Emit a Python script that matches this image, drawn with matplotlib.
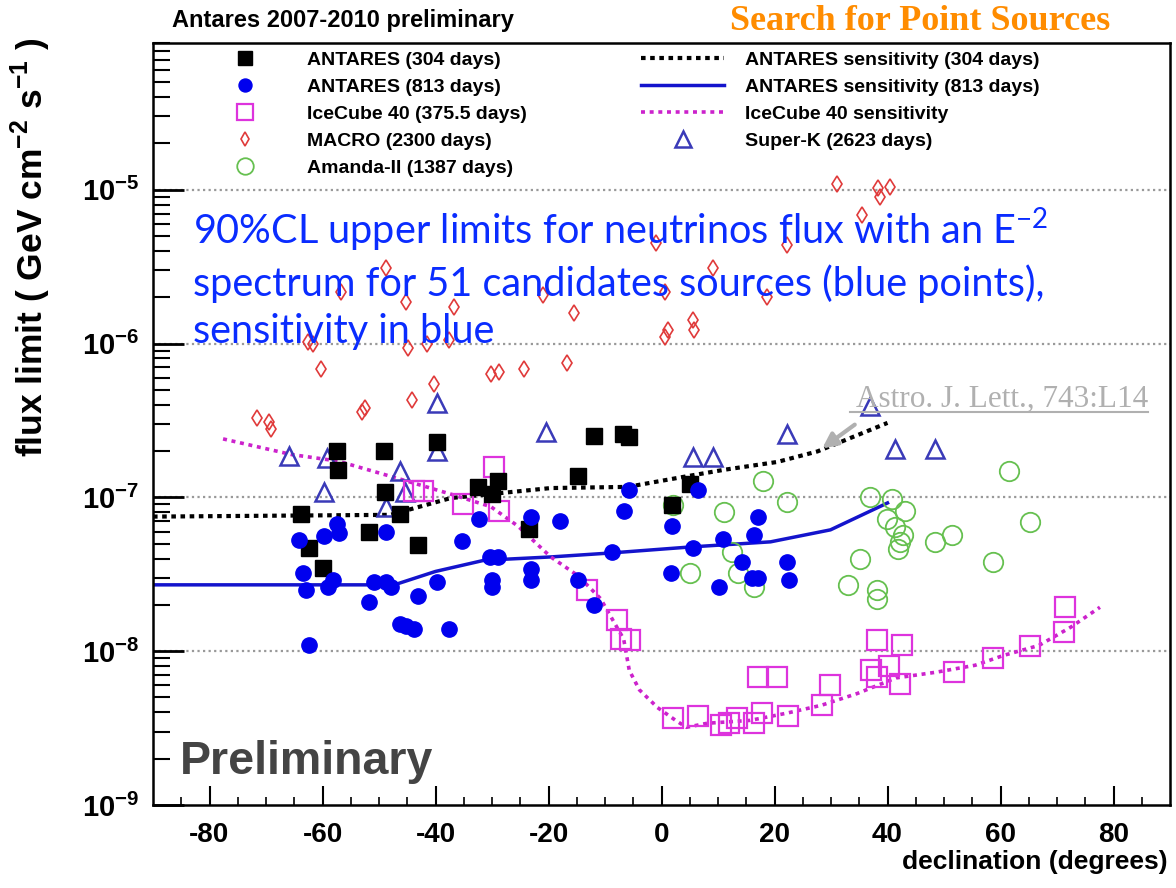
import matplotlib
matplotlib.use('Agg')
import matplotlib.pyplot as plt
from matplotlib.lines import Line2D

plt.rcParams['mathtext.fontset'] = 'custom'
plt.rcParams['mathtext.bf'] = 'Liberation Sans:bold'

# ANTARES 304 days (filled black squares)
ant304_dec = [-63.8, -62.4, -59.9, -57.4, -57.2, -51.8, -49.1, -48.9, -46.3, -43.1, -39.8,
              -32.5, -30.0, -29.0, -23.5, -14.8, -12.0, -6.9, -5.7, 5.1, 1.9]
ant304_flux = [7.8e-8, 4.7e-8, 3.5e-8, 2.0e-7, 1.5e-7, 6.0e-8, 2.0e-7, 1.09e-7, 7.8e-8, 4.9e-8, 2.3e-7,
               1.16e-7, 1.05e-7, 1.27e-7, 6.2e-8, 1.37e-7, 2.5e-7, 2.57e-7, 2.46e-7, 1.22e-7, 8.9e-8]

# ANTARES 813 days (filled blue circles)
ant813_dec = [-64.1, -63.4, -62.9, -62.4, -59.7, -59.0, -58.1, -57.4, -57.1, -51.8, -50.9, -48.8,
              -48.8, -47.9, -46.3, -45.2, -43.8, -43.1, -39.8, -37.6, -35.3, -32.3, -30.4, -29.0,
              -30.0, -30.0, -23.1, -23.1, -23.1, -18.0, -14.8, -12.0, -8.7, -6.7, -5.8, 1.6,
              1.9, 5.5, 6.5, 10.2, 10.8, 14.3, 16.1, 17.0, 17.1, 16.3, 22.3, 22.6]
ant813_flux = [5.3e-8, 3.2e-8, 2.5e-8, 1.1e-8, 5.6e-8, 2.6e-8, 2.9e-8, 6.7e-8, 5.9e-8, 2.1e-8, 2.8e-8, 6.0e-8,
               2.8e-8, 2.6e-8, 1.5e-8, 1.45e-8, 1.4e-8, 2.3e-8, 2.8e-8, 1.4e-8, 5.2e-8, 7.2e-8, 4.1e-8, 4.1e-8,
               2.9e-8, 2.6e-8, 7.4e-8, 3.4e-8, 2.9e-8, 7.0e-8, 2.9e-8, 2.0e-8, 4.4e-8, 8.1e-8, 1.11e-7, 3.2e-8,
               6.5e-8, 4.7e-8, 1.11e-7, 2.6e-8, 5.4e-8, 3.8e-8, 3.0e-8, 3.0e-8, 7.4e-8, 5.7e-8, 3.8e-8, 2.9e-8]

# IceCube 40 (open magenta squares)
ic40_dec = [-43.8, -42.2, -35.2, -29.7, -28.8, -13.1, -7.8, -7.2, -5.5, 2.1, 6.4, 10.6, 12.0, 13.4,
            16.4, 17.8, 22.4, 17.0, 20.5, 29.9, 28.4, 38.2, 42.6, 37.1, 40.3, 38.2, 42.2, 51.8,
            58.7, 65.2, 71.2, 71.5]
ic40_flux = [1.1e-7, 1.1e-7, 9.0e-8, 1.57e-7, 8.1e-8, 2.5e-8, 1.6e-8, 1.2e-8, 1.18e-8, 3.7e-9, 3.8e-9, 3.3e-9,
             3.4e-9, 3.7e-9, 3.4e-9, 3.95e-9, 3.8e-9, 6.8e-9, 6.8e-9, 6.0e-9, 4.45e-9, 1.18e-8, 1.09e-8,
             7.5e-9, 8.0e-9, 6.8e-9, 6.1e-9, 7.3e-9, 9.0e-9, 1.08e-8, 1.33e-8, 1.93e-8]

# MACRO (open red thin diamonds)
macro_dec = [-71.6, -69.4, -69.1, -53.0, -52.5, -44.2, -40.3, -61.7, -62.5, -60.2, -56.7, -48.8, -45.2,
             -44.9, -41.5, -36.7, -37.6, -30.2, -28.8, -24.4, -21.0, -15.5, -16.8, -0.9, 9.2, 0.7,
             18.7, 1.2, 0.7, 5.5, 5.7, 22.3, 31.1, 38.3, 38.7, 40.5, 35.5]
macro_flux = [3.3e-7, 3.1e-7, 2.8e-7, 3.6e-7, 3.8e-7, 4.3e-7, 5.5e-7, 1.0e-6, 1.03e-6, 6.8e-7, 2.15e-6,
              3.1e-6, 1.85e-6, 9.3e-7, 1.0e-6, 1.72e-6, 1.06e-6, 6.3e-7, 6.5e-7, 6.8e-7, 2.08e-6, 1.59e-6,
              7.5e-7, 4.5e-6, 3.1e-6, 2.15e-6, 2.02e-6, 1.23e-6, 1.11e-6, 1.43e-6, 1.23e-6, 4.4e-6,
              1.09e-5, 1.03e-5, 9.0e-6, 1.05e-5, 6.9e-6]

# Amanda-II (open green circles)
amanda_dec = [2.1, 11.0, 18.0, 22.3, 5.1, 12.5, 13.6, 16.3, 35.2, 33.0, 38.2, 38.2, 36.9, 40.8, 39.9,
              41.3, 43.1, 42.8, 42.2, 41.9, 48.4, 51.4, 61.5, 65.2, 58.7]
amanda_flux = [8.9e-8, 8.0e-8, 1.27e-7, 9.3e-8, 3.2e-8, 4.4e-8, 3.2e-8, 2.6e-8, 3.95e-8, 2.7e-8, 2.5e-8,
               2.2e-8, 1.0e-7, 9.7e-8, 7.2e-8, 6.4e-8, 8.1e-8, 5.7e-8, 5.1e-8, 4.6e-8, 5.1e-8, 5.7e-8,
               1.48e-7, 6.9e-8, 3.8e-8]

# Super-K (open blue triangles)
superk_dec = [-65.9, -59.2, -59.7, -48.8, -46.3, -45.4, -39.8, -39.8, -20.5, 5.5, 9.2, 22.3, 36.9, 41.3, 48.4]
superk_flux = [1.85e-7, 1.79e-7, 1.08e-7, 8.7e-8, 1.48e-7, 1.09e-7, 4.1e-7, 1.99e-7, 2.65e-7, 1.82e-7,
               1.82e-7, 2.57e-7, 3.9e-7, 2.05e-7, 2.05e-7]

# sensitivities
sens304_dec = [-90, -69, -48, -37.3, -19.6, -6, 3.9, 11, 20.5, 27.6, 40]
sens304_flux = [7.5e-8, 7.6e-8, 7.7e-8, 9.9e-8, 1.15e-7, 1.17e-7, 1.36e-7, 1.51e-7, 1.70e-7, 1.99e-7, 3.05e-7]
sens813_dec = [-90, -47.3, -40, -31.4, -19.6, -9, 5.1, 19.3, 29.9, 40]
sens813_flux = [2.7e-8, 2.7e-8, 3.3e-8, 3.9e-8, 4.1e-8, 4.35e-8, 4.76e-8, 5.14e-8, 6.15e-8, 9.2e-8]
sensic_dec = [-77.6, -65.5, -57.2, -46.1, -37.3, -30.2, -25.4, -19.6, -14.8, -10.8, -6.7, -5.7, -3.9, -0.7,
              2.5, 4.4, 8.1, 15.7, 22.1, 28.3, 34.6, 41.5, 48.6, 55.5, 60.6, 66.8, 72.4, 77.6]
sensic_flux = [2.4e-7, 1.9e-7, 1.72e-7, 1.31e-7, 1.05e-7, 8.7e-8, 6.5e-8, 4.1e-8, 3.1e-8, 2.2e-8, 1.2e-8,
               7.5e-9, 5.6e-9, 4.3e-9, 3.55e-9, 3.2e-9, 3.4e-9, 3.55e-9, 3.95e-9, 4.45e-9, 5.3e-9, 6.7e-9,
               7.3e-9, 8.1e-9, 9.4e-9, 1.09e-8, 1.43e-8, 1.93e-8]

xticks = [-80, -60, -40, -20, 0, 20, 40, 60, 80]
yticks = [1e-9, 1e-8, 1e-7, 1e-6, 1e-5]
ytick_labels = [r'$\mathbf{10^{-9}}$', r'$\mathbf{10^{-8}}$', r'$\mathbf{10^{-7}}$',
                r'$\mathbf{10^{-6}}$', r'$\mathbf{10^{-5}}$']

W, H = 1176, 888
fig = plt.figure(figsize=(W / 100, H / 100), dpi=100)
ax = fig.add_axes([153 / W, 83 / H, (1170 - 153) / W, (805 - 43) / H])
ax.set_yscale('log')
ax.set_xlim(-90, 90)
ax.set_ylim(1e-9, 9e-5)

for g in [1e-8, 1e-7, 1e-6, 1e-5]:
    ax.axhline(g, color='#999999', ls=(0, (1, 1.5)), lw=1.6, zorder=0)

l304, = ax.plot(sens304_dec, sens304_flux, color='black', lw=3, ls=(0, (1.1, 1.1)), zorder=2,
                label='ANTARES sensitivity (304 days)')
l813, = ax.plot(sens813_dec, sens813_flux, color='#1414cc', lw=2.5, zorder=2,
                label='ANTARES sensitivity (813 days)')
lic, = ax.plot(sensic_dec, sensic_flux, color='#cc22cc', lw=2.6, ls=(0, (1.1, 1.3)), zorder=2,
               label='IceCube 40 sensitivity')

hmac, = ax.plot(macro_dec, macro_flux, ls='none', marker='d', ms=8, mfc='none', mec='#e03a3a', mew=1.2,
                zorder=3, label='MACRO (2300 days)')
hama, = ax.plot(amanda_dec, amanda_flux, ls='none', marker='o', ms=14, mfc='none', mec='#66c050', mew=1.3,
                zorder=3, label='Amanda-II (1387 days)')
hsk, = ax.plot(superk_dec, superk_flux, ls='none', marker='^', ms=13, mfc='none', mec='#3a3ab8', mew=1.8,
               zorder=3, label='Super-K (2623 days)')
hic, = ax.plot(ic40_dec, ic40_flux, ls='none', marker='s', ms=14, mfc='none', mec='#dd33dd', mew=1.6,
               zorder=4, label='IceCube 40 (375.5 days)')
h304, = ax.plot(ant304_dec, ant304_flux, ls='none', marker='s', ms=12, color='black', zorder=5,
                label='ANTARES (304 days)')
h813, = ax.plot(ant813_dec, ant813_flux, ls='none', marker='o', ms=11, color='#0000ee', zorder=6,
                label='ANTARES (813 days)')

# ticks, ROOT style
ax.set_xticks(xticks)
ax.set_xticklabels([str(v) for v in xticks], fontsize=20, fontweight='bold', family='Liberation Sans')
ax.set_xticks(range(-85, 90, 5), minor=True)
ax.set_yticks(yticks)
ax.set_yticklabels(ytick_labels, fontsize=21)
ax.tick_params(axis='x', which='major', direction='in', length=14, width=1.5, pad=12, top=False)
ax.tick_params(axis='x', which='minor', direction='in', length=6, width=1.2, top=False)
ax.tick_params(axis='y', which='major', direction='in', length=22, width=2, pad=10, right=False)
ax.tick_params(axis='y', which='minor', direction='in', length=12, width=1.5, right=False)
for s in ax.spines.values():
    s.set_linewidth(1.8)

fig.text(31 / W, 1 - 38 / H, r'flux limit ( GeV cm$^{\mathbf{-2}}$ s$^{\mathbf{-1}}$ )', rotation=90,
         ha='center', va='top', fontsize=25.5, fontweight='bold', family='Liberation Sans')
fig.text(1168 / W, 1 - 862 / H, 'declination (degrees)', ha='right', va='center', fontsize=19,
         fontweight='bold', family='Liberation Sans')
fig.text(172 / W, 1 - 20 / H, 'Antares 2007-2010 preliminary', ha='left', va='center', fontsize=17,
         fontweight='bold', family='Liberation Sans')
fig.text(1110 / W, 1 - 22 / H, 'Search for Point Sources', ha='right', va='center', fontsize=26,
         fontweight='bold', family='Liberation Serif', color='#ff8c00')

# legends
lprop = dict(family='Liberation Sans', weight='bold', size=14)
fs = 14 * 100 / 72
leg1 = ax.legend(handles=[h304, h813, hic, hmac, hama], loc='upper left',
                 bbox_to_anchor=(203 / W, 1 - 51 / H), bbox_transform=fig.transFigure,
                 frameon=False, borderpad=0, borderaxespad=0, handlelength=83 / fs,
                 handletextpad=21 / fs, labelspacing=0.49, prop=lprop, markerscale=0.85)
ax.add_artist(leg1)
ax.legend(handles=[l304, l813, lic, hsk], loc='upper left',
          bbox_to_anchor=(641 / W, 1 - 51 / H), bbox_transform=fig.transFigure,
          frameon=False, borderpad=0, borderaxespad=0, handlelength=83 / fs,
          handletextpad=21 / fs, labelspacing=0.49, prop=lprop, markerscale=0.85)

# slide annotations
fig.text(193 / W, 1 - 206 / H,
         '90%CL upper limits for neutrinos flux with an E$^{\\mathregular{-2}}$\n'
         'spectrum for 51 candidates sources (blue points),\nsensitivity in blue',
         ha='left', va='top', fontsize=28.5, color='#0a2cff', family='Lato', linespacing=1.33)
fig.text(180 / W, 1 - 762 / H, 'Preliminary', ha='left', va='center', fontsize=33.5,
         fontweight='bold', color='#444444', family='Liberation Sans')
fig.text(1148 / W, 1 - 399 / H, 'Astro. J. Lett., 743:L14', ha='right', va='center', fontsize=22.5,
         color='#b0b0b0', family='Liberation Serif')
fig.add_artist(Line2D([850 / W, 1148 / W], [1 - 412 / H, 1 - 412 / H], transform=fig.transFigure,
                      color='#b0b0b0', lw=1.5))
ax.annotate('', xy=(820 / W, 1 - 450 / H), xytext=(857 / W, 1 - 423 / H), xycoords='figure fraction',
            textcoords='figure fraction',
            arrowprops=dict(arrowstyle='-|>', color='#b0b0b0', lw=3, mutation_scale=22))

fig.savefig('out.png', dpi=100)
